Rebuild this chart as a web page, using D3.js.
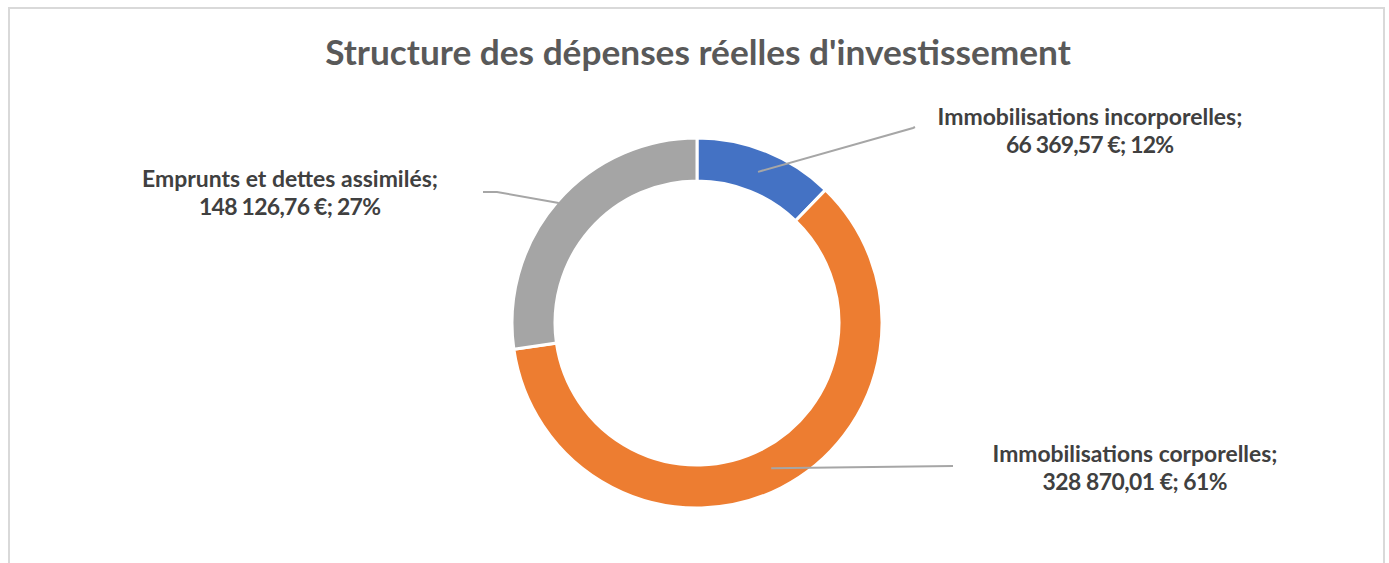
<!DOCTYPE html>
<html>
<head>
<meta charset="utf-8">
<script src="https://cdn.jsdelivr.net/npm/d3@7"></script>
<style>
  body { margin: 0; background: #fff; }
  text { font-family: Lato, "Open Sans", sans-serif; font-weight: bold; }
</style>
</head>
<body>
<div id="chart"></div>
<script>
// Data
let categories = ["Immobilisations incorporelles", "Immobilisations corporelles", "Emprunts et dettes assimilés"];
let values = [66369.57, 328870.01, 148126.76];
let valueLabels = ["66 369,57 €", "328 870,01 €", "148 126,76 €"];
let pctLabels = ["12%", "61%", "27%"];
let colors = ["#4472C4", "#ED7D31", "#A5A5A5"];

let width = 1389,
  height = 563;

let svg = d3
  .select("#chart")
  .append("svg")
  .attr("width", width)
  .attr("height", height);

// chart frame
svg
  .append("rect")
  .attr("x", 9)
  .attr("y", 8)
  .attr("width", 1375)
  .attr("height", 600)
  .attr("fill", "#fff")
  .attr("stroke", "#D9D9D9")
  .attr("stroke-width", 2);

// fit a text element to a given width
function fit(sel, w) {
  let fs = parseFloat(sel.attr("font-size"));
  let len = sel.node().getComputedTextLength();
  sel.attr("font-size", (fs * w) / len);
}

let title = svg
  .append("text")
  .attr("x", 698)
  .attr("y", 65)
  .attr("text-anchor", "middle")
  .attr("font-size", 30)
  .attr("fill", "#595959")
  .text("Structure des dépenses réelles d'investissement");
fit(title, 746);

// Donut
let cx = 697,
  cy = 323,
  outerR = 185,
  innerR = 142;

let pie = d3.pie().sort(null).value((d) => d.value);
let arcs = pie(categories.map((c, i) => ({ name: c, value: values[i], i: i })));

let arc = d3.arc().innerRadius(innerR).outerRadius(outerR);

let g = svg.append("g").attr("transform", "translate(" + cx + "," + cy + ")");

g.selectAll("path")
  .data(arcs)
  .join("path")
  .attr("d", arc)
  .attr("fill", (d) => colors[d.data.i])
  .attr("stroke", "#fff")
  .attr("stroke-width", 3);

// Leader lines: start on slice mid angle, end near the label
let leaderR = [163, 163, 183];
let leaderEnds = [
  [[915, 127], [913, 128]],
  [[953, 466]],
  [[483, 192], [497, 192]],
];

function midPoint(d, r) {
  let a = (d.startAngle + d.endAngle) / 2;
  return [cx + r * Math.sin(a), cy - r * Math.cos(a)];
}

svg
  .append("g")
  .selectAll("path")
  .data(arcs)
  .join("path")
  .attr("d", (d) => {
    let pts = leaderEnds[d.data.i].concat([midPoint(d, leaderR[d.data.i])]);
    return d3.line()(pts);
  })
  .attr("fill", "none")
  .attr("stroke", "#A6A6A6")
  .attr("stroke-width", 2);

// Labels: [x center, baseline, width line 1, width line 2]
let labelPos = [
  [1090, 125, 305, 168],
  [1135, 462, 285, 185],
  [290, 187, 296, 182],
];

arcs.forEach((d) => {
  let i = d.data.i;
  let p = labelPos[i];
  let t1 = svg
    .append("text")
    .attr("x", p[0])
    .attr("y", p[1])
    .attr("text-anchor", "middle")
    .attr("font-size", 19)
    .attr("fill", "#404040")
    .text(categories[i] + ";");
  fit(t1, p[2]);
  svg
    .append("text")
    .attr("x", p[0])
    .attr("y", p[1] + 28)
    .attr("text-anchor", "middle")
    .attr("font-size", t1.attr("font-size"))
    .attr("fill", "#404040")
    .attr("textLength", p[3])
    .attr("lengthAdjust", "spacing")
    .text(valueLabels[i] + "; " + pctLabels[i]);
});
</script>
</body>
</html>
